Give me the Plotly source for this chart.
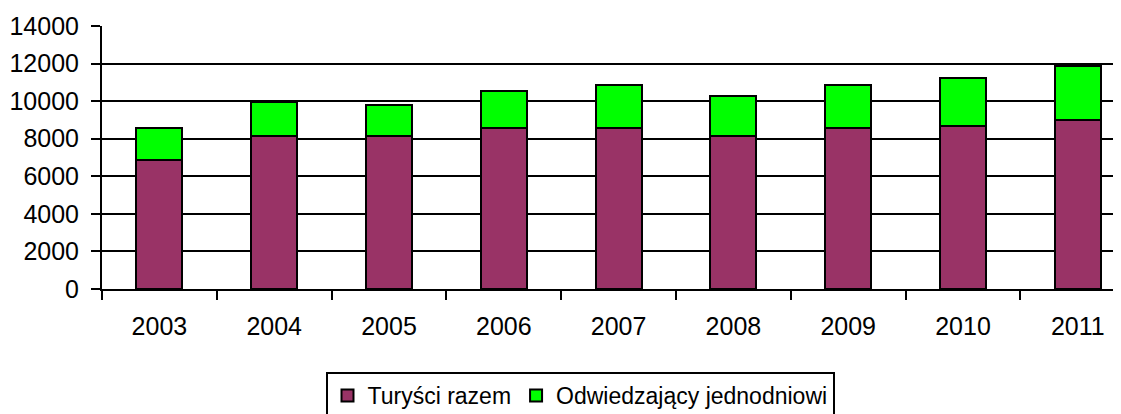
import plotly.graph_objects as go

years = ["2003", "2004", "2005", "2006", "2007", "2008", "2009", "2010", "2011"]
turysci = [6850, 8130, 8130, 8550, 8550, 8130, 8550, 8700, 9000]
jednodniowi = [1700, 1820, 1670, 2000, 2290, 2120, 2290, 2550, 2850]
yticks = [0, 2000, 4000, 6000, 8000, 10000, 12000, 14000]

FONT = "Liberation Sans, Arial, sans-serif"
FS = 25

fig = go.Figure()
fig.add_trace(go.Bar(
    x=years, y=turysci, name="Turyści razem",
    marker=dict(color="#993366", line=dict(color="black", width=2)),
))
fig.add_trace(go.Bar(
    x=years, y=jednodniowi, name="Odwiedzający jednodniowi",
    marker=dict(color="#00FF00", line=dict(color="black", width=2)),
))

# page body has an 8px margin; figure offset accordingly
W, H = 1113, 406
left, top = 94, 18
plot_h = 263
bottom = H - top - plot_h
plot_w = W - left
cat_px = 114.8
x_end = -0.5 + plot_w / cat_px

fig.update_layout(
    width=W, height=H,
    barmode="stack", bargap=0.6,
    margin=dict(l=left, r=0, t=top, b=bottom, pad=0, autoexpand=False),
    plot_bgcolor="white", paper_bgcolor="white",
    font=dict(family=FONT, size=FS, color="black"),
    showlegend=True,
    legend=dict(
        orientation="h",
        x=(572 - left) / plot_w, xanchor="center",
        y=(top + plot_h - 364) / plot_h, yanchor="top",
        bordercolor="black", borderwidth=2,
        font=dict(family=FONT, size=23, color="black"),
        traceorder="normal",
        itemwidth=30,
    ),
    xaxis=dict(
        type="category",
        range=[-0.5, x_end],
        automargin=False,
        showline=True, linecolor="black", linewidth=2,
        ticks="outside", tickson="boundaries", ticklen=9, tickwidth=2, tickcolor="black",
        showgrid=False,
        ticklabelstandoff=14,
        tickfont=dict(family=FONT, size=FS, color="black"),
    ),
    yaxis=dict(
        range=[0, 14000],
        tickvals=yticks,
        ticktext=[str(v) for v in yticks],
        automargin=False,
        showline=True, linecolor="black", linewidth=2,
        showgrid=True, gridcolor="black", gridwidth=2,
        ticks="outside", ticklen=9, tickwidth=2, tickcolor="black",
        ticklabelstandoff=7,
        zeroline=False,
        tickfont=dict(family=FONT, size=FS, color="black"),
    ),
)

fig.write_html("out.html")
